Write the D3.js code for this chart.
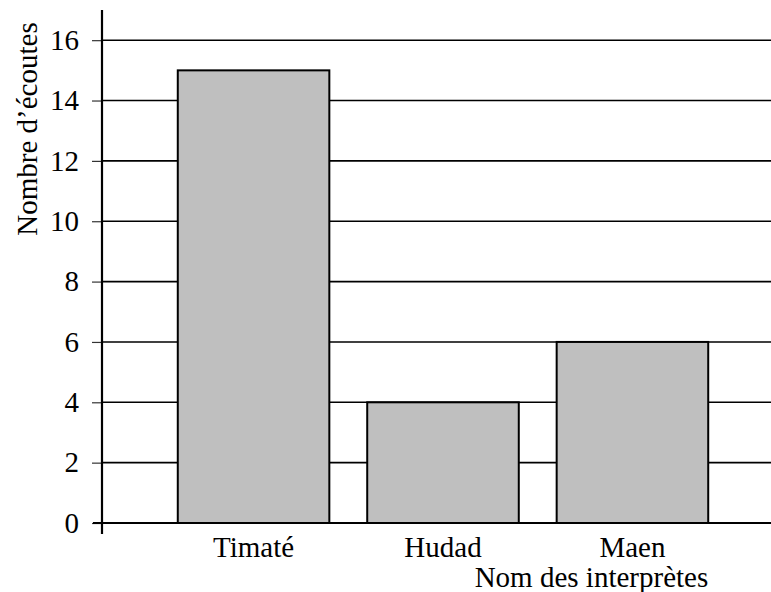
<!DOCTYPE html>
<html>
<head>
<meta charset="utf-8">
<script src="https://cdn.jsdelivr.net/npm/d3@7"></script>
<style>
  body { margin: 0; background: #fff; }
  text { font-family: "Liberation Serif", "Times New Roman", serif; fill: #000; }
</style>
</head>
<body>
<div id="chart"></div>
<script>
// Nombre d'écoutes par interprète
var interpretes = ["Timaté", "Hudad", "Maen"];
var ecoutes = [15, 4, 6];
var yTicks = [0, 2, 4, 6, 8, 10, 12, 14, 16];

var width = 771,
    height = 592,
    fontSize = "29px";

var x = d3.scaleBand()
    .domain(interpretes)
    .range([102, 784])
    .paddingInner(0.2)
    .paddingOuter(0.4);

var y = d3.scaleLinear()
    .domain([0, 17])
    .range([523, 10]);

var svg = d3.select("#chart").append("svg")
    .attr("width", width)
    .attr("height", height);

// grid lines
svg.append("g")
  .selectAll("line")
    .data(yTicks.slice(1))
  .enter().append("line")
    .attr("x1", 102)
    .attr("x2", width)
    .attr("y1", function(d) { return y(d); })
    .attr("y2", function(d) { return y(d); })
    .attr("stroke", "#000")
    .attr("stroke-width", 1.6);

// bars
svg.append("g")
  .selectAll("rect")
    .data(ecoutes)
  .enter().append("rect")
    .attr("x", function(d, i) { return x(interpretes[i]); })
    .attr("y", function(d) { return y(d); })
    .attr("width", x.bandwidth())
    .attr("height", function(d) { return y(0) - y(d); })
    .attr("fill", "#bfbfbf")
    .attr("stroke", "#000")
    .attr("stroke-width", 2);

// y axis
var yAxis = d3.axisLeft(y)
    .tickValues(yTicks)
    .tickSize(10)
    .tickPadding(13);

var gy = svg.append("g")
    .attr("transform", "translate(102,0)")
    .call(yAxis);
gy.select(".domain").remove();
gy.selectAll(".tick line").attr("stroke", "#333").attr("stroke-width", 1.2);
gy.selectAll(".tick text")
    .style("font-family", "'Liberation Serif', 'Times New Roman', serif")
    .style("font-size", fontSize);

svg.append("line")
    .attr("x1", 102).attr("x2", 102)
    .attr("y1", y(17)).attr("y2", 534)
    .attr("stroke", "#000")
    .attr("stroke-width", 2.2);

// x axis baseline
svg.append("line")
    .attr("x1", 93).attr("x2", width)
    .attr("y1", y(0)).attr("y2", y(0))
    .attr("stroke", "#000")
    .attr("stroke-width", 2.2);

var xAxis = d3.axisBottom(x).tickSize(0).tickPadding(0);
var gx = svg.append("g")
    .attr("transform", "translate(0," + y(0) + ")")
    .call(xAxis);
gx.select(".domain").remove();
gx.selectAll(".tick text")
    .attr("dy", null)
    .attr("y", 34)
    .style("font-family", "'Liberation Serif', 'Times New Roman', serif")
    .style("font-size", fontSize);

// axis titles
svg.append("text")
    .attr("x", x("Maen") + x.bandwidth())
    .attr("y", 587)
    .style("text-anchor", "end")
    .style("font-size", fontSize)
    .text("Nom des interprètes");

svg.append("text")
    .attr("transform", "translate(37,129) rotate(-90)")
    .style("text-anchor", "middle")
    .style("font-size", fontSize)
    .text("Nombre d’écoutes");
</script>
</body>
</html>
